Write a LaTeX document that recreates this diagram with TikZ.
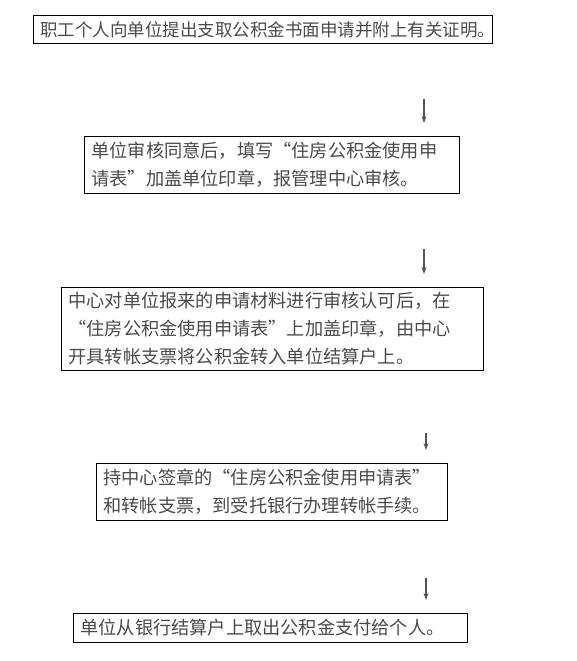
\documentclass[tikz,border=0pt]{standalone}
\usepackage{fontspec}
\newfontfamily\cjk{Noto Sans CJK SC}[RawFeature=+fwid]
\usetikzlibrary{arrows.meta}
\definecolor{txtgray}{HTML}{4A4A4A}
\definecolor{arrgray}{HTML}{555555}

\begin{document}
\begin{tikzpicture}[x=1pt, y=-1pt,
  stepbox/.style={draw=black, line width=0.9pt, anchor=north west, align=left,
    inner xsep=7pt, inner ysep=2pt, text=txtgray,
    font=\cjk\fontsize{18.2pt}{28pt}\selectfont},
  flow/.style={-{Stealth[length=7pt, width=5pt]}, line width=1.2pt, draw=arrgray}]
\useasboundingbox (0,0) rectangle (577,661);

\node (apply) [stepbox, text width=445pt, minimum height=28pt,
  font=\cjk\fontsize{17.5pt}{28pt}\selectfont] at (33,15)
  {职工个人向单位提出支取公积金书面申请并附上有关证明。};
\node (unitcheck) [stepbox, text width=361pt, minimum height=57pt] at (84,136)
  {单位审核同意后，填写“住房公积金使用申\\请表”加盖单位印章，报管理中心审核。};
\node (centercheck) [stepbox, text width=408pt, minimum height=83pt] at (61,287)
  {中心对单位报来的申请材料进行审核认可后，在\\“住房公积金使用申请表”上加盖印章，由中心\\开具转帐支票将公积金转入单位结算户上。};
\node (bankproc) [stepbox, text width=337pt, minimum height=57pt] at (96,463)
  {持中心签章的“住房公积金使用申请表”\\和转帐支票，到受托银行办理转帐手续。};
\node (payout) [stepbox, text width=380pt, minimum height=29pt] at (73,613)
  {单位从银行结算户上取出公积金支付给个人。};

% arrows sit off to the right, not touching the boxes
\coordinate (colA) at (424,0);
\coordinate (colB) at (426,0);
\foreach \from/\to/\gap/\col in {apply/unitcheck/55/colA, unitcheck/centercheck/55/colA,
    centercheck/bankproc/62/colB, bankproc/payout/57/colB}
  \draw[flow, shorten <=\gap pt, shorten >=13pt] (\from.south -| \col) -- (\to.north -| \col);
\end{tikzpicture}
\end{document}
